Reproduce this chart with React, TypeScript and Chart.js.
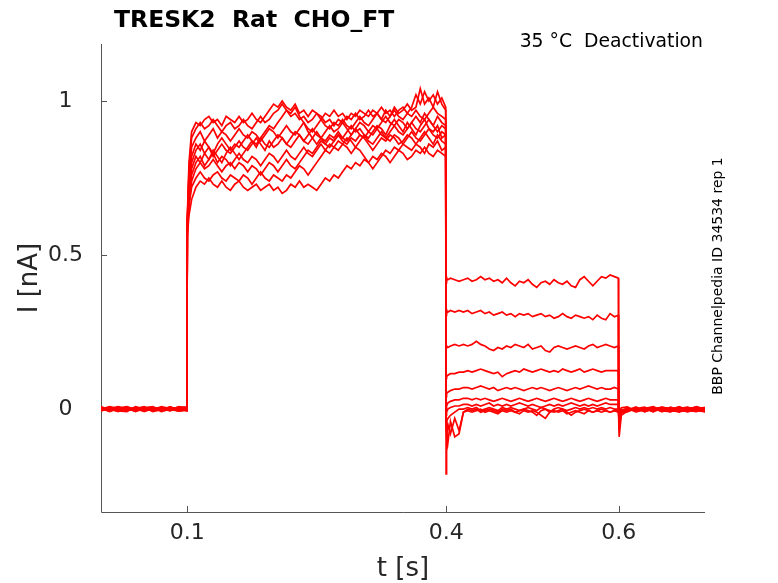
import React, { useEffect, useRef } from 'react';
import { Chart, registerables } from 'chart.js';

Chart.register(...registerables);

// ---------- axis / text ----------
const TITLE = 'TRESK2  Rat  CHO_FT';
const SUBTITLE = '35 °C  Deactivation';
const SIDE_NOTE = 'BBP Channelpedia ID 34534 rep 1';
const X_LABEL = 't [s]';
const Y_LABEL = 'I [nA]';
const X_TICKS = [0.1, 0.4, 0.6];
const Y_TICKS = [0, 0.5, 1];
const X_RANGE = [0, 0.7];
const Y_RANGE = [-0.334, 1.185];

// ---------- sample times (s) ----------
const preT = [0, 0.01, 0.02, 0.03, 0.04, 0.05, 0.06, 0.07, 0.08, 0.09, 0.0995];
const actT = [
  0.1, 0.102, 0.105,
  0.11, 0.115, 0.12, 0.125, 0.13, 0.135, 0.14, 0.145, 0.15, 0.155,
  0.16, 0.165, 0.17, 0.175, 0.18, 0.185, 0.19, 0.195, 0.2, 0.205,
  0.21, 0.215, 0.22, 0.225, 0.23, 0.235, 0.24, 0.245, 0.25, 0.255,
  0.26, 0.265, 0.27, 0.275, 0.28, 0.285, 0.29, 0.295, 0.3, 0.305,
  0.31, 0.315, 0.32, 0.325, 0.33, 0.335, 0.34, 0.345, 0.35, 0.355,
  0.36, 0.365, 0.37, 0.375, 0.38, 0.385, 0.39, 0.395,
  0.3995,
];
const deacT = [
  0.4, 0.4005, 0.402, 0.405, 0.41, 0.415, 0.42,
  0.425, 0.43, 0.435, 0.44, 0.445, 0.45, 0.455, 0.46, 0.465, 0.47,
  0.475, 0.48, 0.485, 0.49, 0.495, 0.5, 0.505, 0.51, 0.515, 0.52,
  0.525, 0.53, 0.535, 0.54, 0.545, 0.55, 0.555, 0.56, 0.565, 0.57,
  0.575, 0.58, 0.585, 0.59, 0.595,
  0.5995,
];
const postT = [0.6, 0.6005, 0.603, 0.61, 0.62, 0.63, 0.64, 0.65, 0.66, 0.67, 0.68, 0.69, 0.7];

// ---------- sweep A ----------
const preA = [0.005, -0.004, 0.007, -0.005, 0.002, 0.008, -0.006, 0.003, -0.002, 0.007, 0.002];
const actA = [
  0.62, 0.8, 0.9,
  0.93, 0.92, 0.94, 0.95, 0.93, 0.94, 0.92, 0.95, 0.94, 0.93,
  0.95, 0.93, 0.94, 0.96, 0.94, 0.93, 0.95, 0.97, 0.99, 0.98,
  1.0, 0.98, 0.97, 0.99, 0.96, 0.97, 0.95, 0.97, 0.96, 0.94,
  0.96, 0.95, 0.97, 0.95, 0.96, 0.94, 0.96, 0.95, 0.97, 0.96,
  0.95, 0.97, 0.96, 0.98, 0.96, 0.97, 0.95, 0.97, 0.98, 0.96,
  0.98, 1.02, 0.99, 1.03, 1.0, 1.02, 0.99, 1.01,
  0.98,
];
const deacA = [
  0.43, 0.425, 0.42, 0.425, 0.42, 0.415, 0.42,
  0.425, 0.415, 0.42, 0.43, 0.42, 0.425, 0.415, 0.42, 0.41, 0.425,
  0.41, 0.4, 0.415, 0.41, 0.42, 0.405, 0.395, 0.41, 0.415, 0.405,
  0.42, 0.41, 0.405, 0.415, 0.4, 0.395, 0.42, 0.43, 0.415, 0.4,
  0.415, 0.43, 0.425, 0.435, 0.43,
  0.425,
];
const postA = [0.0, -0.01, 0.004, 0.007, -0.006, 0.002, 0.008, -0.005, 0.0, 0.007, -0.004, -0.008, 0.003];

// ---------- sweep B ----------
const preB = [-0.004, 0.006, -0.005, 0.003, -0.008, 0.002, 0.005, -0.003, 0.008, -0.005, 0.0];
const actB = [
  0.6, 0.78, 0.88,
  0.91, 0.93, 0.91, 0.92, 0.94, 0.92, 0.9, 0.92, 0.93, 0.91,
  0.92, 0.94, 0.92, 0.91, 0.93, 0.95, 0.93, 0.94, 0.96, 0.97,
  0.99, 0.97, 0.95, 0.96, 0.94, 0.95, 0.93, 0.94, 0.96, 0.95,
  0.93, 0.94, 0.92, 0.94, 0.93, 0.95, 0.94, 0.96, 0.94, 0.95,
  0.97, 0.95, 0.96, 0.94, 0.97, 0.95, 0.98, 0.96, 0.97, 0.99,
  0.97, 0.98, 1.04, 0.99, 1.01, 0.98, 1.03, 0.99,
  0.97,
];
const deacB = [
  0.325, 0.32, 0.315, 0.32, 0.315, 0.32, 0.315,
  0.32, 0.31, 0.315, 0.32, 0.31, 0.315, 0.305, 0.31, 0.315, 0.305,
  0.31, 0.3, 0.31, 0.305, 0.31, 0.3, 0.305, 0.31, 0.3, 0.305,
  0.295, 0.3, 0.31, 0.3, 0.295, 0.305, 0.3, 0.295, 0.3, 0.29,
  0.305, 0.295, 0.29, 0.31, 0.3,
  0.305,
];
const postB = [-0.005, -0.015, -0.005, -0.003, 0.007, -0.008, 0.0, 0.006, -0.003, -0.009, 0.005, 0.002, -0.006];

// ---------- sweep C ----------
const preC = [0.002, -0.007, 0.003, 0.008, -0.002, -0.006, 0.005, 0.0, -0.005, 0.003, 0.006];
const actC = [
  0.61, 0.76, 0.85,
  0.88, 0.9, 0.87, 0.89, 0.91, 0.88, 0.9, 0.89, 0.87, 0.89,
  0.91, 0.89, 0.88, 0.9, 0.89, 0.87, 0.89, 0.91, 0.9, 0.88,
  0.9, 0.92, 0.9, 0.89, 0.91, 0.93, 0.91, 0.9, 0.92, 0.94,
  0.92, 0.91, 0.93, 0.92, 0.94, 0.92, 0.91, 0.93, 0.95, 0.93,
  0.92, 0.94, 0.96, 0.94, 0.93, 0.95, 0.97, 0.95, 0.94, 0.96,
  0.95, 0.97, 0.95, 0.94, 0.96, 0.98, 0.96, 0.95,
  0.94,
];
const deacC = [
  0.2, 0.205, 0.2, 0.205, 0.21, 0.205, 0.21,
  0.205, 0.21, 0.22, 0.21, 0.205, 0.195, 0.19, 0.2, 0.195, 0.205,
  0.2, 0.21, 0.205, 0.2, 0.21, 0.195, 0.2, 0.205, 0.19, 0.185,
  0.2, 0.205, 0.2, 0.195, 0.2, 0.205, 0.2, 0.195, 0.205, 0.21,
  0.2, 0.205, 0.21, 0.205, 0.2,
  0.205,
];
const postC = [-0.01, -0.03, -0.008, -0.007, 0.002, 0.006, -0.006, -0.002, -0.009, 0.005, 0.0, 0.007, -0.002];

// ---------- sweep D ----------
const preD = [-0.006, 0.003, 0.0, -0.004, 0.006, -0.005, -0.002, 0.008, 0.002, -0.007, -0.003];
const actD = [
  0.59, 0.74, 0.82,
  0.86, 0.84, 0.87, 0.85, 0.83, 0.86, 0.88, 0.86, 0.84, 0.86,
  0.85, 0.87, 0.89, 0.87, 0.86, 0.88, 0.86, 0.85, 0.87, 0.89,
  0.88, 0.86, 0.88, 0.9, 0.89, 0.87, 0.89, 0.91, 0.89, 0.88,
  0.9, 0.92, 0.9, 0.91, 0.93, 0.91, 0.89, 0.91, 0.93, 0.92,
  0.9, 0.92, 0.91, 0.93, 0.95, 0.93, 0.92, 0.94, 0.93, 0.91,
  0.93, 0.95, 0.93, 0.96, 0.94, 0.92, 0.95, 0.93,
  0.92,
];
const deacD = [
  0.1, 0.105, 0.11, 0.115, 0.115, 0.12, 0.12,
  0.125, 0.12, 0.125, 0.13, 0.125, 0.12, 0.115, 0.12, 0.105, 0.115,
  0.12, 0.125, 0.12, 0.13, 0.125, 0.12, 0.125, 0.13, 0.125, 0.12,
  0.125, 0.12, 0.13, 0.125, 0.12, 0.125, 0.13, 0.12, 0.125, 0.13,
  0.125, 0.12, 0.125, 0.125, 0.125,
  0.125,
];
const postD = [-0.02, -0.05, -0.012, 0.002, -0.009, -0.003, 0.005, -0.008, 0.006, -0.002, -0.007, 0.003, 0.005];

// ---------- sweep E ----------
const preE = [0.006, 0.0, -0.008, 0.005, -0.003, 0.003, 0.008, -0.005, 0.005, 0.002, -0.005];
const actE = [
  0.6, 0.72, 0.8,
  0.84, 0.86, 0.83, 0.85, 0.82, 0.84, 0.86, 0.84, 0.83, 0.85,
  0.87, 0.85, 0.84, 0.86, 0.88, 0.86, 0.84, 0.87, 0.85, 0.86,
  0.88, 0.86, 0.85, 0.87, 0.89, 0.87, 0.86, 0.88, 0.9, 0.88,
  0.87, 0.89, 0.88, 0.9, 0.88, 0.87, 0.89, 0.91, 0.89, 0.88,
  0.9, 0.89, 0.91, 0.89, 0.88, 0.9, 0.92, 0.9, 0.89, 0.91,
  0.93, 0.91, 0.9, 0.92, 0.94, 0.92, 0.9, 0.92,
  0.91,
];
const deacE = [
  0.04, 0.05, 0.055, 0.06, 0.065, 0.065, 0.07,
  0.07, 0.065, 0.07, 0.075, 0.07, 0.065, 0.07, 0.06, 0.065, 0.07,
  0.065, 0.07, 0.065, 0.06, 0.065, 0.07, 0.065, 0.07, 0.065, 0.06,
  0.065, 0.07, 0.065, 0.06, 0.065, 0.07, 0.065, 0.07, 0.075, 0.07,
  0.065, 0.07, 0.065, 0.065, 0.07,
  0.065,
];
const postE = [-0.03, -0.09, -0.02, -0.006, 0.005, -0.009, 0.002, 0.004, -0.005, -0.008, 0.002, 0.006, -0.003];

// ---------- sweep F ----------
const preF = [0.0, 0.008, 0.002, -0.006, 0.005, -0.008, 0.002, 0.005, -0.006, 0.008, 0.003];
const actF = [
  0.58, 0.7, 0.78,
  0.82, 0.8, 0.83, 0.81, 0.84, 0.82, 0.8, 0.83, 0.85, 0.83,
  0.81, 0.83, 0.85, 0.87, 0.85, 0.88, 0.9, 0.92, 0.91, 0.93,
  0.95, 0.97, 0.96, 0.98, 0.95, 0.93, 0.9, 0.88, 0.86, 0.88,
  0.86, 0.85, 0.87, 0.89, 0.88, 0.9, 0.92, 0.9, 0.91, 0.89,
  0.88, 0.9, 0.92, 0.91, 0.89, 0.92, 0.94, 0.92, 0.9, 0.93,
  0.91, 0.89, 0.92, 0.94, 0.91, 0.9, 0.92, 0.88,
  0.89,
];
const deacF = [
  0.0, 0.01, 0.02, 0.025, 0.03, 0.03, 0.035,
  0.035, 0.03, 0.035, 0.03, 0.035, 0.03, 0.025, 0.03, 0.035, 0.03,
  0.025, 0.03, 0.035, 0.03, 0.025, 0.03, 0.035, 0.03, 0.025, 0.03,
  0.035, 0.03, 0.025, 0.03, 0.035, 0.03, 0.025, 0.03, 0.035, 0.03,
  0.025, 0.03, 0.035, 0.03, 0.03,
  0.03,
];
const postF = [-0.02, -0.06, -0.014, 0.003, -0.005, 0.003, -0.008, 0.006, 0.002, -0.003, -0.009, 0.0, 0.005];

// ---------- sweep G ----------
const preG = [-0.005, 0.002, 0.008, 0.0, -0.005, 0.006, -0.008, -0.002, 0.003, -0.003, 0.005];
const actG = [
  0.59, 0.69, 0.76,
  0.8, 0.82, 0.79, 0.81, 0.83, 0.8, 0.82, 0.81, 0.79, 0.81,
  0.83, 0.81, 0.8, 0.82, 0.81, 0.79, 0.81, 0.83, 0.82, 0.8,
  0.82, 0.84, 0.82, 0.81, 0.83, 0.85, 0.83, 0.82, 0.84, 0.86,
  0.84, 0.86, 0.85, 0.87, 0.86, 0.88, 0.87, 0.85, 0.87, 0.89,
  0.87, 0.86, 0.88, 0.9, 0.88, 0.87, 0.89, 0.88, 0.86, 0.88,
  0.9, 0.88, 0.87, 0.89, 0.91, 0.89, 0.88, 0.9,
  0.89,
];
const deacG = [
  -0.02, -0.01, 0.0, 0.005, 0.01, 0.01, 0.015,
  0.015, 0.01, 0.015, 0.01, 0.015, 0.02, 0.01, 0.015, 0.01, 0.015,
  0.01, 0.015, 0.02, 0.015, 0.01, 0.015, 0.01, 0.005, 0.01, 0.015,
  0.01, 0.015, 0.01, 0.015, 0.02, 0.015, 0.01, 0.015, 0.01, 0.015,
  0.01, 0.015, 0.02, 0.015, 0.015,
  0.015,
];
const postG = [-0.015, -0.04, -0.01, -0.009, 0.003, -0.002, 0.006, -0.006, -0.008, 0.003, 0.005, -0.005, -0.008];

// ---------- sweep H ----------
const preH = [0.008, -0.005, -0.002, 0.006, 0.0, -0.003, 0.003, -0.006, 0.006, 0.0, -0.006];
const actH = [
  0.57, 0.67, 0.74,
  0.78, 0.8, 0.78, 0.79, 0.81, 0.79, 0.77, 0.79, 0.8, 0.78,
  0.8, 0.79, 0.77, 0.79, 0.78, 0.76, 0.78, 0.8, 0.79, 0.77,
  0.79, 0.81, 0.79, 0.78, 0.8, 0.82, 0.84, 0.83, 0.85, 0.87,
  0.86, 0.88, 0.87, 0.89, 0.87, 0.86, 0.88, 0.87, 0.89, 0.88,
  0.86, 0.84, 0.86, 0.88, 0.87, 0.89, 0.88, 0.86, 0.87, 0.89,
  0.88, 0.86, 0.88, 0.9, 0.88, 0.86, 0.89, 0.87,
  0.86,
];
const deacH = [
  -0.05, -0.04, -0.03, -0.02, -0.01, 0.0, 0.0,
  0.005, 0.0, 0.005, -0.005, 0.0, 0.005, 0.0, -0.005, 0.005, 0.0,
  0.005, 0.0, -0.005, 0.0, 0.005, 0.0, -0.005, 0.005, 0.0, -0.01,
  0.0, 0.005, 0.0, -0.005, 0.0, 0.005, 0.0, 0.005, 0.0, 0.005,
  0.0, 0.005, 0.0, 0.005, 0.0,
  0.0,
];
const postH = [-0.01, -0.02, -0.007, 0.005, -0.008, 0.005, -0.005, 0.0, 0.005, -0.009, -0.003, 0.008, 0.0];

// ---------- sweep I ----------
const preI = [-0.002, 0.005, -0.006, -0.008, 0.008, 0.0, -0.005, 0.006, -0.003, 0.005, 0.007];
const actI = [
  0.58, 0.66, 0.72,
  0.75, 0.77, 0.75, 0.74, 0.76, 0.77, 0.75, 0.74, 0.76, 0.75,
  0.74, 0.76, 0.75, 0.73, 0.75, 0.77, 0.75, 0.74, 0.76, 0.75,
  0.74, 0.76, 0.75, 0.77, 0.79, 0.78, 0.76, 0.78, 0.8, 0.82,
  0.84, 0.83, 0.85, 0.84, 0.86, 0.85, 0.83, 0.85, 0.84, 0.82,
  0.8, 0.78, 0.8, 0.82, 0.84, 0.83, 0.85, 0.84, 0.86, 0.85,
  0.84, 0.86, 0.85, 0.83, 0.86, 0.85, 0.87, 0.84,
  0.85,
];
const deacI = [
  -0.06, -0.09, -0.05, -0.08, -0.03, -0.07, -0.01,
  0.0, -0.005, 0.0, -0.01, -0.005, 0.0, -0.005, -0.01, 0.0, -0.005,
  0.0, -0.01, -0.005, 0.0, -0.005, -0.01, -0.02, -0.005, 0.0, -0.005,
  -0.01, -0.005, 0.0, -0.01, -0.02, -0.01, -0.005, 0.0, -0.005, -0.01,
  -0.005, 0.0, -0.005, -0.01, -0.005,
  -0.005,
];
const postI = [-0.008, -0.01, -0.006, -0.005, 0.0, -0.006, 0.003, -0.008, -0.002, 0.002, 0.006, -0.006, 0.003];

// ---------- sweep J ----------
const preJ = [0.003, -0.008, 0.005, 0.002, -0.006, 0.005, 0.006, -0.008, 0.0, -0.007, -0.002];
const actJ = [
  0.56, 0.63, 0.68,
  0.72, 0.74, 0.73, 0.75, 0.73, 0.72, 0.74, 0.72, 0.71, 0.73,
  0.74, 0.72, 0.71, 0.72, 0.73, 0.71, 0.72, 0.73, 0.71, 0.72,
  0.7, 0.71, 0.73, 0.72, 0.74, 0.72, 0.73, 0.72, 0.71, 0.73,
  0.75, 0.74, 0.76, 0.75, 0.77, 0.79, 0.78, 0.8, 0.79, 0.81,
  0.8, 0.82, 0.81, 0.83, 0.82, 0.8, 0.82, 0.84, 0.83, 0.81,
  0.82, 0.84, 0.83, 0.85, 0.83, 0.82, 0.84, 0.83,
  0.82,
];
const deacJ = [
  -0.21, -0.07, -0.11, -0.04, -0.09, -0.08, -0.01,
  -0.005, -0.01, -0.005, 0.0, -0.01, -0.005, -0.01, -0.015, -0.005, -0.01,
  -0.005, -0.01, -0.015, -0.005, -0.01, -0.005, -0.01, -0.02, -0.03, -0.01,
  -0.005, -0.01, -0.005, -0.015, -0.01, -0.005, -0.01, -0.015, -0.005, -0.01,
  -0.005, -0.01, -0.005, -0.01, -0.005,
  -0.01,
];
const postJ = [-0.01, -0.012, -0.003, 0.0, -0.003, 0.002, -0.009, 0.005, -0.006, 0.008, -0.005, 0.003, -0.009];

const SWEEPS = [
  [preA, actA, deacA, postA],
  [preB, actB, deacB, postB],
  [preC, actC, deacC, postC],
  [preD, actD, deacD, postD],
  [preE, actE, deacE, postE],
  [preF, actF, deacF, postF],
  [preG, actG, deacG, postG],
  [preH, actH, deacH, postH],
  [preI, actI, deacI, postI],
  [preJ, actJ, deacJ, postJ],
];

const TIMES = [preT, actT, deacT, postT];

function buildPoints(parts: number[][]) {
  const pts: { x: number; y: number }[] = [];
  parts.forEach((vals, i) => {
    const ts = TIMES[i];
    const n = Math.min(ts.length, vals.length);
    for (let k = 0; k < n; k++) pts.push({ x: ts[k], y: vals[k] });
  });
  return pts;
}

const FONT = '"DejaVu Sans", "Liberation Sans", sans-serif';
const AXIS_COLOR = '#555555';
const TEXT_COLOR = '#262626';

const axesPlugin = {
  id: 'axesDeco',
  beforeDatasetsDraw(chart: any) {
    const { ctx, chartArea: a, scales } = chart;
    const x = scales.x;
    const y = scales.y;
    ctx.save();
    ctx.strokeStyle = AXIS_COLOR;
    ctx.lineWidth = 1;
    ctx.beginPath();
    ctx.moveTo(Math.round(a.left) + 0.5, a.top);
    ctx.lineTo(Math.round(a.left) + 0.5, Math.round(a.bottom) + 0.5);
    ctx.lineTo(a.right, Math.round(a.bottom) + 0.5);
    X_TICKS.forEach((v) => {
      const px = Math.round(x.getPixelForValue(v)) + 0.5;
      ctx.moveTo(px, a.bottom);
      ctx.lineTo(px, a.bottom - 6);
    });
    Y_TICKS.forEach((v) => {
      const py = Math.round(y.getPixelForValue(v)) + 0.5;
      ctx.moveTo(a.left, py);
      ctx.lineTo(a.left + 6, py);
    });
    ctx.stroke();
    ctx.restore();
  },
  afterDraw(chart: any) {
    const { ctx, chartArea: a } = chart;
    ctx.save();
    ctx.fillStyle = '#000000';
    ctx.textBaseline = 'alphabetic';
    ctx.font = `bold 23.5px ${FONT}`;
    ctx.textAlign = 'left';
    ctx.fillText(TITLE, 114, 26.5);
    ctx.font = `18.8px ${FONT}`;
    ctx.textAlign = 'right';
    ctx.fillText(SUBTITLE, 703, 47);

    ctx.fillStyle = TEXT_COLOR;
    ctx.font = `26px ${FONT}`;
    ctx.textAlign = 'center';
    ctx.fillText(X_LABEL, (a.left + a.right) / 2, 576);

    ctx.save();
    ctx.translate(37, (a.top + a.bottom) / 2);
    ctx.rotate(-Math.PI / 2);
    ctx.fillText(Y_LABEL, 0, 0);
    ctx.restore();

    ctx.save();
    ctx.fillStyle = '#000000';
    ctx.font = `14px ${FONT}`;
    ctx.translate(722, 276);
    ctx.rotate(-Math.PI / 2);
    ctx.textAlign = 'center';
    ctx.fillText(SIDE_NOTE, 0, 0);
    ctx.restore();
    ctx.restore();
  },
};

export default function App() {
  const ref = useRef<HTMLCanvasElement | null>(null);

  useEffect(() => {
    if (!ref.current) return;
    const datasets = SWEEPS.map((parts, i) => ({
      label: `sweep ${i + 1}`,
      data: buildPoints(parts),
      borderColor: '#ff0000',
      backgroundColor: '#ff0000',
      borderWidth: 1.7,
      pointRadius: 0,
      tension: 0,
      fill: false,
    }));
    const chart = new Chart(ref.current, {
      type: 'line',
      data: { datasets },
      options: {
        animation: false,
        responsive: false,
        devicePixelRatio: 1,
        layout: { padding: { top: 44, right: 73, left: 0, bottom: 0 } },
        plugins: {
          legend: { display: false },
          tooltip: { enabled: false },
          title: { display: false },
        },
        scales: {
          x: {
            type: 'linear',
            min: X_RANGE[0],
            max: X_RANGE[1],
            grid: { display: false, drawTicks: false },
            border: { display: false },
            afterBuildTicks: (s: any) => {
              s.ticks = X_TICKS.map((v) => ({ value: v }));
            },
            afterFit: (s: any) => {
              s.height = 71;
            },
            ticks: {
              autoSkip: false,
              maxRotation: 0,
              padding: 8,
              color: TEXT_COLOR,
              font: { family: FONT, size: 22 },
              callback: (v: any) => String(v),
            },
          },
          y: {
            type: 'linear',
            min: Y_RANGE[0],
            max: Y_RANGE[1],
            grid: { display: false, drawTicks: false },
            border: { display: false },
            afterBuildTicks: (s: any) => {
              s.ticks = Y_TICKS.map((v) => ({ value: v }));
            },
            afterFit: (s: any) => {
              s.width = 101;
            },
            ticks: {
              autoSkip: false,
              crossAlign: 'center',
              padding: 18,
              color: TEXT_COLOR,
              font: { family: FONT, size: 22 },
              callback: (v: any) => String(v),
            },
          },
        },
      },
      plugins: [axesPlugin],
    });
    return () => chart.destroy();
  }, []);

  return (
    <div style={{ position: 'absolute', left: 0, top: 0, width: 778, height: 583, background: '#ffffff' }}>
      <canvas ref={ref} width={778} height={583} style={{ width: 778, height: 583, display: 'block' }} />
    </div>
  );
}
